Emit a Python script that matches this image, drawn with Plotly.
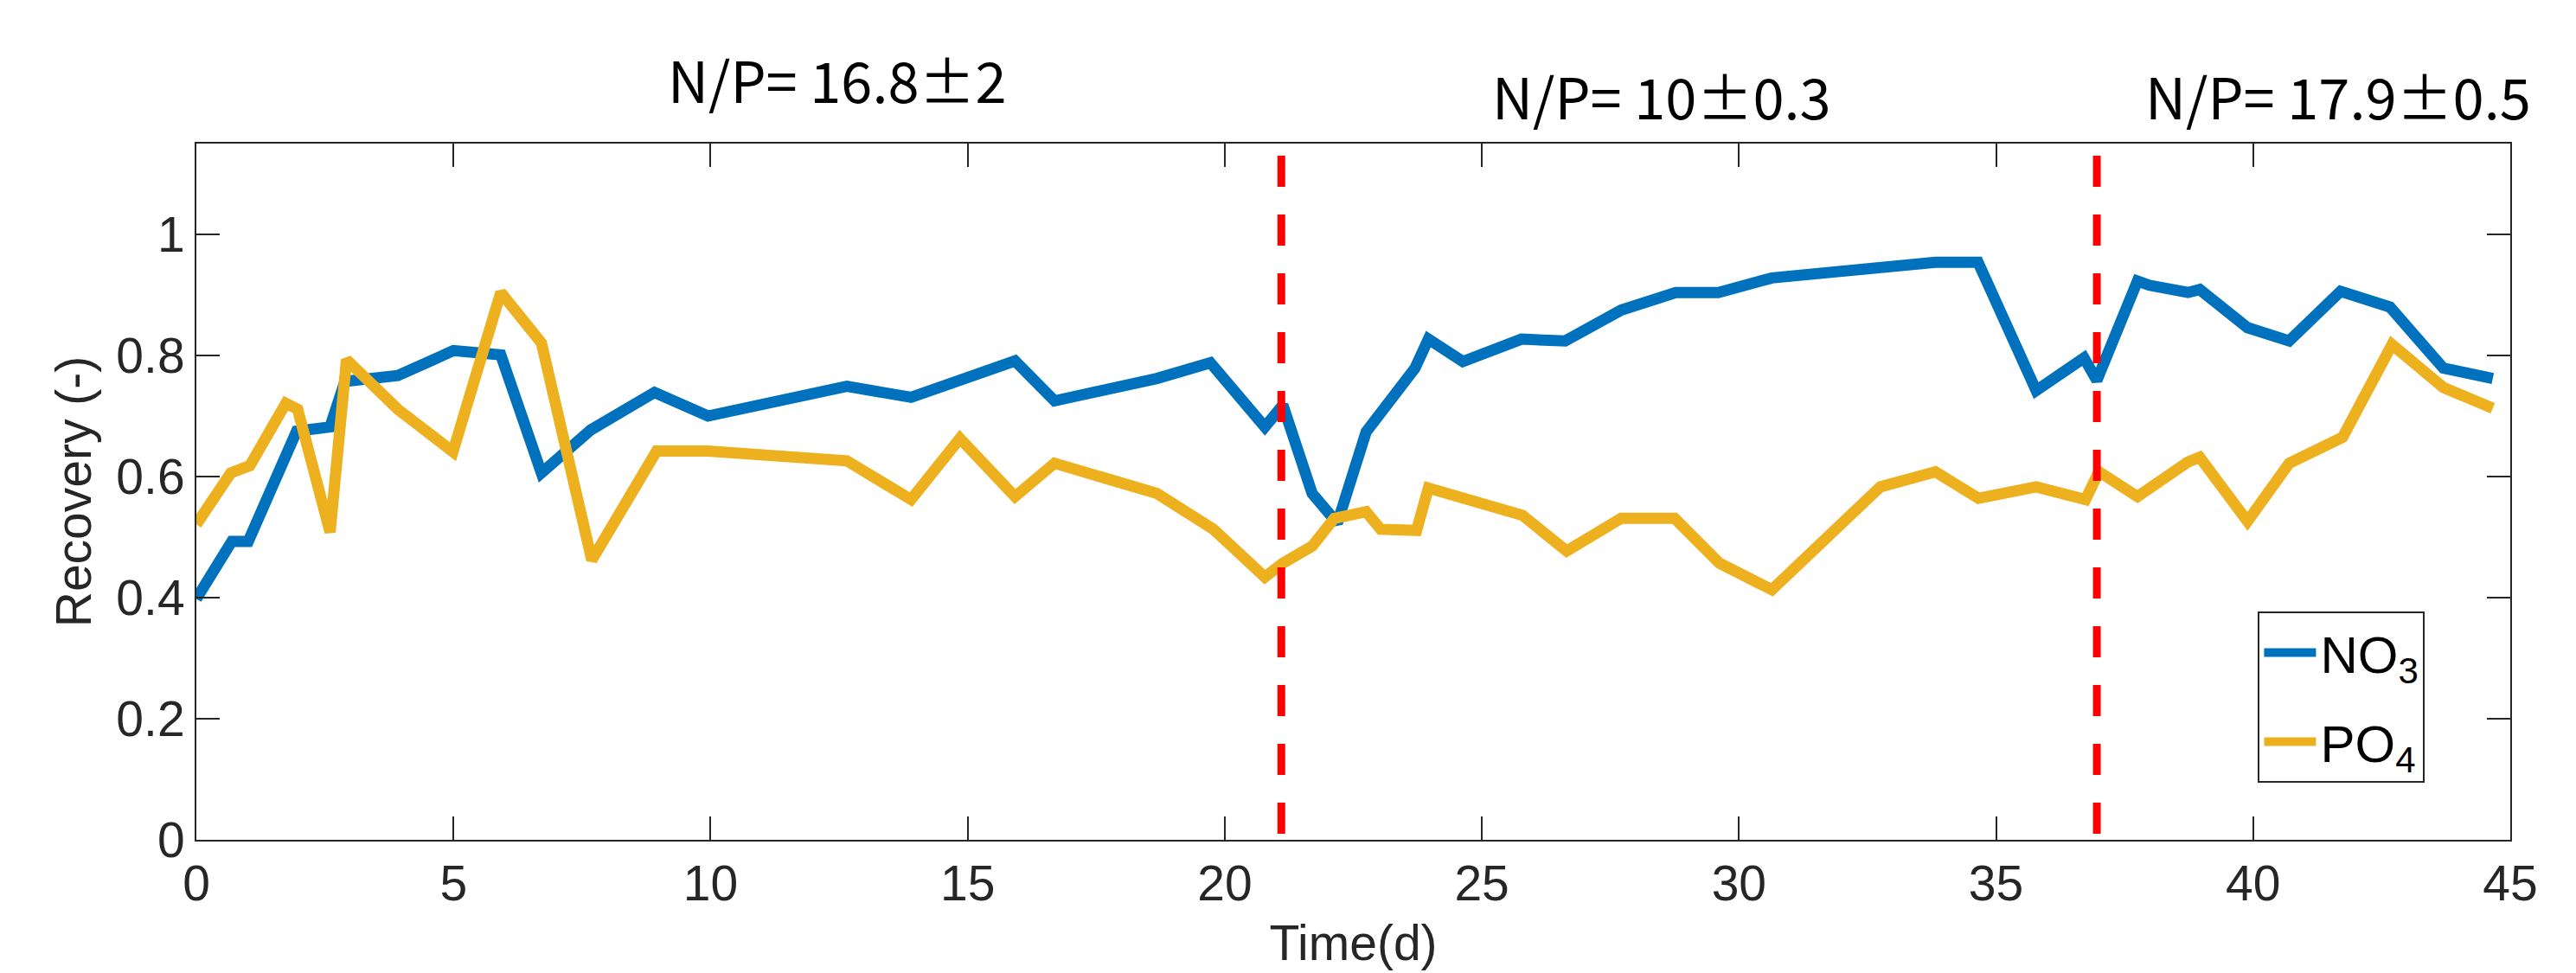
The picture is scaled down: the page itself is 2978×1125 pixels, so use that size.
import plotly.graph_objects as go

# ---- data ----
no3_days = [0, 0.69, 1.01, 1.74, 1.95, 2.6, 2.89, 3.92, 5.0, 5.92, 6.71, 7.67, 8.91, 9.95,
            12.65, 13.9, 14.88, 15.92, 16.69, 18.68, 19.72, 20.78, 21.13, 21.7, 22.19, 22.75,
            23.7, 23.96, 24.63, 25.77, 26.62, 27.71, 28.77, 29.6, 30.64, 32.72, 33.82, 34.65,
            35.78, 36.71, 36.96, 37.75, 37.98, 38.73, 38.96, 39.89, 40.7, 41.7, 42.66, 43.7, 44.66]
no3_recovery = [0.398, 0.493, 0.493, 0.632, 0.675, 0.682, 0.757, 0.767, 0.808, 0.801, 0.606, 0.677,
                0.739, 0.700, 0.749, 0.731, 0.762, 0.791, 0.725, 0.762, 0.788, 0.682, 0.718, 0.572,
                0.523, 0.674, 0.779, 0.827, 0.790, 0.827, 0.824, 0.875, 0.904, 0.904, 0.928, 0.947,
                0.954, 0.954, 0.742, 0.796, 0.759, 0.923, 0.916, 0.904, 0.909, 0.846, 0.824, 0.906,
                0.880, 0.779, 0.762]

po4_days = [0, 0.67, 1.04, 1.74, 1.97, 2.6, 2.92, 3.92, 4.99, 5.92, 6.71, 7.69, 8.95, 9.95,
            12.65, 13.9, 14.85, 15.92, 16.69, 18.68, 19.78, 20.78, 21.13, 21.7, 22.13, 22.75,
            23.03, 23.73, 23.96, 24.63, 25.79, 26.65, 27.71, 28.75, 29.62, 30.64, 32.75, 33.82,
            34.66, 35.78, 36.74, 37.0, 37.75, 38.73, 38.96, 39.89, 40.7, 41.74, 42.7, 43.7, 44.66]
po4_recovery = [0.521, 0.606, 0.618, 0.721, 0.711, 0.508, 0.793, 0.711, 0.641, 0.904, 0.821, 0.462,
                0.642, 0.642, 0.626, 0.562, 0.663, 0.567, 0.622, 0.572, 0.513, 0.434, 0.457, 0.485,
                0.531, 0.542, 0.513, 0.511, 0.581, 0.565, 0.536, 0.477, 0.531, 0.531, 0.457, 0.413,
                0.583, 0.608, 0.564, 0.583, 0.562, 0.608, 0.567, 0.624, 0.632, 0.526, 0.622, 0.665,
                0.818, 0.747, 0.713]

divider_days = [21.1, 36.96]
divider_top = 1.13
phase_labels = ["N/P= 16.8\u00b12", "N/P= 10\u00b10.3", "N/P= 17.9\u00b10.5"]
phase_label_x = [12.47, 28.49, 41.66]
phase_label_y = [1.257, 1.23, 1.23]   # in recovery units (above the axis top)

y_max = 1.15
x_ticks = [0, 5, 10, 15, 20, 25, 30, 35, 40, 45]
y_ticks = [0, 0.2, 0.4, 0.6, 0.8, 1]
y_tick_labels = ["0", "0.2", "0.4", "0.6", "0.8", "1"]

BLUE = "#0072BD"
YELLOW = "#EDB120"
AXIS = "#262626"
TICK_FONT = dict(family="Liberation Sans, Arial, sans-serif", size=57, color=AXIS)

fig = go.Figure()
fig.add_trace(go.Scatter(x=no3_days, y=no3_recovery, mode="lines", name="NO<sub>3</sub>",
                         legendgroup="no3", line=dict(color=BLUE, width=13)))
fig.add_trace(go.Scatter(x=po4_days, y=po4_recovery, mode="lines", name="PO<sub>4</sub>",
                         legendgroup="po4", line=dict(color=YELLOW, width=13)))

for d in divider_days:
    fig.add_shape(type="line", xref="x", yref="y", x0=d, x1=d, y0=divider_top, y1=0,
                  line=dict(color="#FF0000", width=9, dash="36px,32px"), layer="above")

for txt, xx, yy in zip(phase_labels, phase_label_x, phase_label_y):
    fig.add_annotation(x=xx, y=yy / y_max, xref="x", yref="paper", text=txt, showarrow=False,
                       font=dict(family="Noto Sans CJK JP, Noto Sans, sans-serif", size=65,
                                 color="black"),
                       xanchor="center", yanchor="middle")

fig.update_xaxes(range=[0, 45], tickvals=x_ticks, ticks="inside", ticklen=27, tickwidth=2,
                 tickcolor=AXIS, showline=True, linecolor=AXIS, linewidth=2, mirror="ticks",
                 showgrid=False, zeroline=False, tickfont=TICK_FONT,
                 title=dict(text="Time(d)", font=TICK_FONT, standoff=18))
fig.update_yaxes(range=[0, y_max], tickvals=y_ticks, ticktext=y_tick_labels, ticks="inside",
                 ticklen=27, tickwidth=2, tickcolor=AXIS, showline=True, linecolor=AXIS,
                 linewidth=2, mirror="ticks", showgrid=False, zeroline=False, tickfont=TICK_FONT,
                 title=dict(text="Recovery (-)", font=TICK_FONT, standoff=10))

fig.update_layout(
    width=2978, height=1125,
    margin=dict(l=219, r=84, t=158, b=162),
    paper_bgcolor="white", plot_bgcolor="white",
    legend=dict(x=0.891, y=0.328, xanchor="left", yanchor="top",
                bordercolor=AXIS, borderwidth=2, bgcolor="white",
                font=dict(family="Liberation Sans, Arial, sans-serif", size=60, color="black"),
                itemwidth=60, tracegroupgap=22),
    showlegend=True,
)

fig.write_html("out.html")
